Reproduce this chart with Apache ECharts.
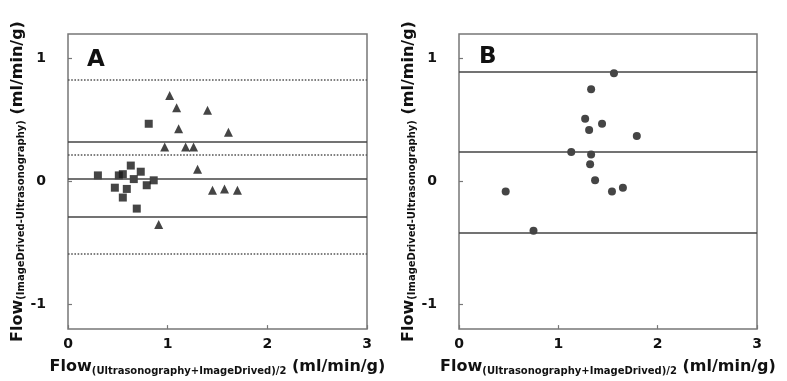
<!DOCTYPE html>
<html>
<head>
<meta charset="utf-8">
<script src="https://cdn.jsdelivr.net/npm/echarts@6/dist/echarts.min.js"></script>
<style>
html,body{margin:0;padding:0;background:#fff;}
#chart{width:787px;height:381px;}
</style>
</head>
<body>
<div id="chart"></div>
<script>
// ---- data ----
var xTicks = [0, 1, 2, 3];
var yTicks = [-1, 0, 1];
// Panel A: squares
var aSquareX = [0.30, 0.47, 0.51, 0.55, 0.55, 0.59, 0.63, 0.66, 0.69, 0.73, 0.79, 0.81, 0.86];
var aSquareY = [0.05, -0.05, 0.05, 0.06, -0.13, -0.06, 0.13, 0.02, -0.22, 0.08, -0.03, 0.47, 0.01];
// Panel A: triangles
var aTriX = [1.02, 1.09, 1.40, 1.11, 1.61, 0.97, 1.18, 1.26, 1.30, 1.45, 1.57, 1.70, 0.91];
var aTriY = [0.70, 0.60, 0.58, 0.43, 0.40, 0.28, 0.28, 0.28, 0.10, -0.07, -0.06, -0.07, -0.35];
var aSolidLines = [0.32, 0.02, -0.29];
var aDottedLines = [0.83, 0.22, -0.59];
// Panel B: circles
var bX = [1.56, 1.33, 1.27, 1.44, 1.31, 1.79, 1.13, 1.33, 1.32, 1.37, 1.54, 1.65, 0.47, 0.75];
var bY = [0.88, 0.75, 0.51, 0.47, 0.42, 0.37, 0.24, 0.22, 0.14, 0.01, -0.08, -0.05, -0.08, -0.40];
var bSolidLines = [0.89, 0.24, -0.42];

var panelLabels = ['A', 'B'];
var xName = 'Flow';
var xSub = '(Ultrasonography+ImageDrived)/2';
var ySub = '(ImageDrived-Ultrasonography)';
var unit = ' (ml/min/g)';

function zip(xs, ys) { return xs.map(function (x, i) { return [x, ys[i]]; }); }

var FONT = '"DejaVu Sans", "Liberation Sans", Arial, sans-serif';
var rich = {
  a: { fontFamily: FONT, fontWeight: 'bold', fontSize: 16, color: '#111', verticalAlign: 'top', lineHeight: 17 },
  b: { fontFamily: FONT, fontWeight: 'bold', fontSize: 10, color: '#111', verticalAlign: 'bottom', lineHeight: 11, padding: [10, 0, 0, 0] },
  c: { fontFamily: FONT, fontWeight: 'bold', fontSize: 16, color: '#111', verticalAlign: 'top', lineHeight: 17 }
};

function xAxisCfg(gi) {
  return {
    gridIndex: gi, type: 'value', min: 0, max: 3, interval: 1,
    name: '{a|' + xName + '}{b|' + xSub + '}{c|' + unit + '}',
    nameLocation: 'middle', nameGap: 27,
    nameTextStyle: { rich: rich },
    axisLine: { show: false, onZero: false },
    axisTick: { show: true, inside: true, length: 4, lineStyle: { color: '#777', width: 1.2 } },
    axisLabel: { fontFamily: FONT, fontWeight: 'bold', fontSize: 14, color: '#111', margin: 8 },
    splitLine: { show: false }
  };
}
function yAxisCfg(gi) {
  return {
    gridIndex: gi, type: 'value', min: -1.2, max: 1.2,
    name: '{a|' + xName + '}{b|' + ySub + '}{c|' + unit + '}',
    nameLocation: 'middle', nameGap: 38,
    nameTextStyle: { rich: rich },
    axisLine: { show: false, onZero: false },
    axisTick: { show: true, inside: true, length: 4, customValues: yTicks, lineStyle: { color: '#777', width: 1.2 } },
    axisLabel: { fontFamily: FONT, fontWeight: 'bold', fontSize: 14, color: '#111', margin: 22, customValues: yTicks },
    splitLine: { show: false }
  };
}
function lines(vals, type, color) {
  return vals.map(function (v) {
    return { yAxis: v, lineStyle: { type: type, color: color, width: 1.6 } };
  });
}

var chart = echarts.init(document.getElementById('chart'), null, { renderer: 'canvas' });
chart.setOption({
  backgroundColor: '#fff',
  animation: false,
  title: [
    { text: panelLabels[0], left: 82, top: 44, textStyle: { fontFamily: FONT, fontWeight: 'bold', fontSize: 23, color: '#111' } },
    { text: panelLabels[1], left: 474, top: 41, textStyle: { fontFamily: FONT, fontWeight: 'bold', fontSize: 23, color: '#111' } }
  ],
  grid: [
    { left: 68, top: 34, width: 299, height: 299, show: true, borderColor: '#777', borderWidth: 1.5, backgroundColor: '#fff' },
    { left: 459, top: 34, width: 298, height: 303, show: true, borderColor: '#777', borderWidth: 1.5, backgroundColor: '#fff' }
  ],
  xAxis: [xAxisCfg(0), xAxisCfg(1)],
  yAxis: [yAxisCfg(0), yAxisCfg(1)],
  series: [
    {
      type: 'scatter', xAxisIndex: 0, yAxisIndex: 0, data: zip(aSquareX, aSquareY),
      symbol: 'rect', symbolSize: 8, itemStyle: { color: '#161616' }, z: 3,
      markLine: {
        silent: true, symbol: ['none', 'none'], label: { show: false },
        data: lines(aSolidLines, 'solid', '#444').concat(lines(aDottedLines, 'dotted', '#555'))
      }
    },
    {
      type: 'scatter', xAxisIndex: 0, yAxisIndex: 0, data: zip(aTriX, aTriY),
      symbol: 'triangle', symbolSize: 9, itemStyle: { color: '#161616' }, z: 3
    },
    {
      type: 'scatter', xAxisIndex: 1, yAxisIndex: 1, data: zip(bX, bY),
      symbol: 'circle', symbolSize: 8, itemStyle: { color: '#161616' }, z: 3,
      markLine: {
        silent: true, symbol: ['none', 'none'], label: { show: false },
        data: lines(bSolidLines, 'solid', '#444')
      }
    }
  ]
});
</script>
</body>
</html>
